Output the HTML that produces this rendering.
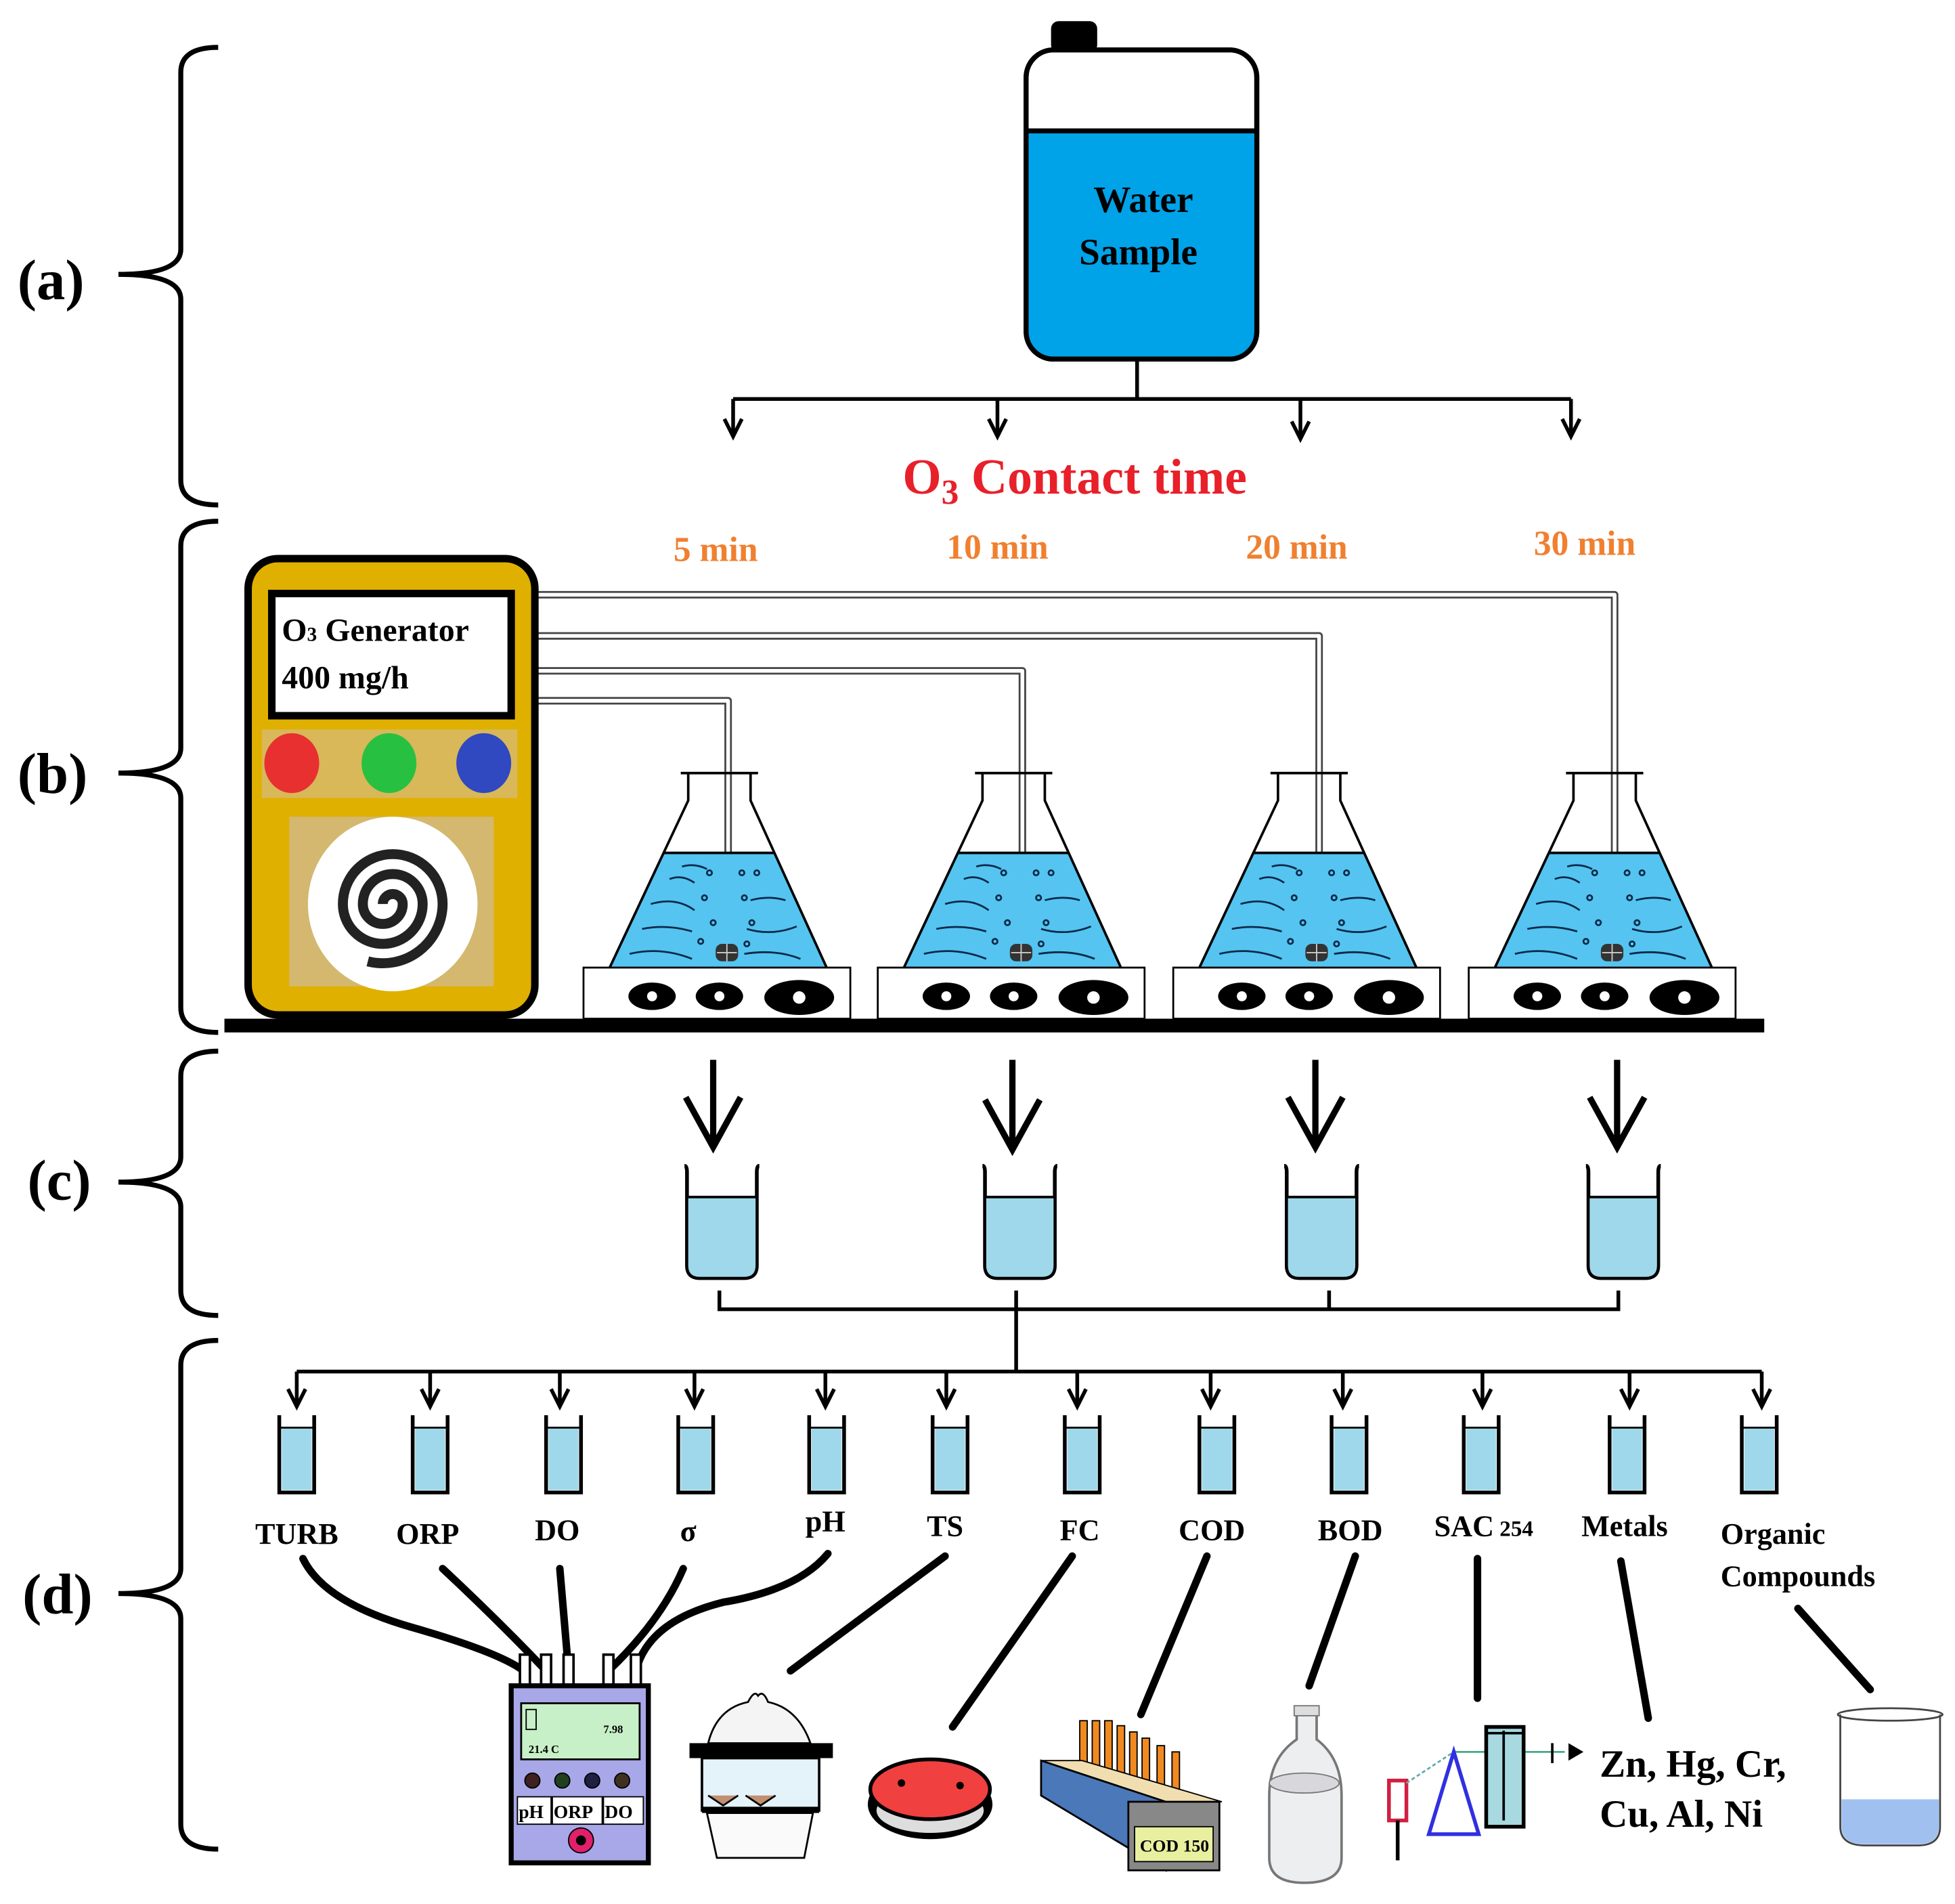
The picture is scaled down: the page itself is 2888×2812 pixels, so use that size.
<!DOCTYPE html>
<html><head><meta charset="utf-8"><style>
html,body{margin:0;padding:0;background:#fff;}
svg{display:block;}
text{font-family:"Liberation Serif",serif;font-weight:bold;}
</style></head><body>
<svg width="2888" height="2812" viewBox="0 0 1568 1527" preserveAspectRatio="none" xmlns="http://www.w3.org/2000/svg">
<defs>
<g id="flask">
  <path d="M-45,684 L44,684 L86,776 L-88,776 Z" fill="#55c4f0"/>
  <path d="M-88,776 L-25,642 L-25,620 M25,620 L25,642 L86,776" fill="none" stroke="#000" stroke-width="2"/>
  <line x1="-31" y1="620" x2="31" y2="620" stroke="#000" stroke-width="2"/>
  <line x1="-45" y1="684" x2="44" y2="684" stroke="#000" stroke-width="2"/>
  <g fill="none" stroke="#0a2a4a" stroke-width="1.5">
    <path d="M-40,705 q10,-4 20,3"/><path d="M-55,725 q20,-6 35,5"/><path d="M-62,745 q20,-4 40,2"/>
    <path d="M-72,765 q25,-6 50,4"/><path d="M25,722 q15,-4 28,0"/><path d="M22,745 q20,6 40,-2"/>
    <path d="M20,765 q25,-4 45,4"/><path d="M-30,695 q10,-3 20,2"/>
    <circle cx="-8" cy="700" r="2"/><circle cx="-12" cy="720" r="2"/><circle cx="-5" cy="740" r="2"/>
    <circle cx="-15" cy="755" r="2"/><circle cx="18" cy="700" r="2"/><circle cx="20" cy="720" r="2"/>
    <circle cx="26" cy="740" r="2"/><circle cx="30" cy="700" r="2"/><circle cx="22" cy="757" r="2"/>
  </g>
  <rect x="-3" y="757" width="18" height="14" rx="5" fill="#333"/>
  <path d="M-2,764 h16 M6,757 v14" stroke="#ccc" stroke-width="1"/>
  <rect x="-109" y="776" width="214" height="41" fill="#fff" stroke="#000" stroke-width="1.5"/>
  <ellipse cx="-54" cy="799" rx="19" ry="11" fill="#000"/><circle cx="-54" cy="799" r="4" fill="#fff"/>
  <ellipse cx="0" cy="799" rx="19" ry="11" fill="#000"/><circle cx="0" cy="799" r="4" fill="#fff"/>
  <ellipse cx="64" cy="800" rx="28" ry="14" fill="#000"/><circle cx="64" cy="800" r="5" fill="#fff"/>
</g>
<g id="beaker">
  <path d="M-30,935 q2,0 2,5 L-28,1015 q0,10 10,10 L18,1025 q10,0 10,-10 L28,940 q0,-5 2,-5" fill="none" stroke="#000" stroke-width="3"/>
  <path d="M-28,960 L28,960 L28,1015 q0,10 -10,10 L-18,1025 q-10,0 -10,-10 Z" fill="#9fd8ea" stroke="#000" stroke-width="2"/>
</g>
<g id="tube">
  <path d="M-14,1135 L-14,1197 L14,1197 L14,1135" fill="none" stroke="#000" stroke-width="3"/>
  <rect x="-12" y="1145" width="24" height="50" fill="#9fd8ea"/>
  <line x1="-14" y1="1145" x2="14" y2="1145" stroke="#000" stroke-width="1.5"/>
</g>
<g id="sarr"><path d="M-7,-14 L0,0 L7,-14" fill="none" stroke="#000" stroke-width="3"/></g>
<g id="barr"><path d="M-22,-40 L0,0 L22,-40" fill="none" stroke="#000" stroke-width="5"/></g>
</defs>

<!-- brackets -->
<g fill="none" stroke="#000" stroke-width="4">
<path d="M175,38 q-30,0 -30,20 L145,200 q0,20 -50,20 q50,0 50,20 L145,385 q0,20 30,20"/>
<path d="M175,418 q-30,0 -30,20 L145,600 q0,20 -50,20 q50,0 50,20 L145,808 q0,20 30,20"/>
<path d="M175,843 q-30,0 -30,20 L145,928 q0,20 -50,20 q50,0 50,20 L145,1035 q0,20 30,20"/>
<path d="M175,1075 q-30,0 -30,20 L145,1258 q0,20 -50,20 q50,0 50,20 L145,1463 q0,20 30,20"/>
</g>
<text x="14" y="240" font-size="46">(a)</text>
<text x="14" y="636" font-size="46">(b)</text>
<text x="22" y="962" font-size="46">(c)</text>
<text x="18" y="1294" font-size="46">(d)</text>

<!-- jug -->
<rect x="843" y="17" width="37" height="25" rx="6" fill="#000"/>
<rect x="823" y="40" width="185" height="248" rx="22" fill="#fff" stroke="#000" stroke-width="4"/>
<path d="M825,105 L1006,105 L1006,266 q0,20 -20,20 L845,286 q-20,0 -20,-20 Z" fill="#00a2e8"/>
<line x1="823" y1="105" x2="1008" y2="105" stroke="#000" stroke-width="4"/>
<rect x="823" y="40" width="185" height="248" rx="22" fill="none" stroke="#000" stroke-width="4"/>
<text x="917" y="170" font-size="30" text-anchor="middle">Water</text>
<text x="913" y="212" font-size="30" text-anchor="middle">Sample</text>
<g stroke="#000" stroke-width="3" fill="none">
<line x1="912" y1="288" x2="912" y2="320"/>
<line x1="588" y1="320" x2="1260" y2="320"/>
<line x1="588" y1="320" x2="588" y2="350"/><line x1="800" y1="320" x2="800" y2="350"/>
<line x1="1043" y1="320" x2="1043" y2="352"/><line x1="1260" y1="320" x2="1260" y2="350"/>
</g>
<use href="#sarr" x="588" y="350"/><use href="#sarr" x="800" y="350"/><use href="#sarr" x="1043" y="352"/><use href="#sarr" x="1260" y="350"/>
<text x="862" y="396" font-size="40" fill="#e8202a" text-anchor="middle">O<tspan font-size="28" dy="8">3</tspan><tspan dy="-8"> Contact time</tspan></text>
<g fill="#f08030" font-size="28" text-anchor="middle">
<text x="574" y="450">5 min</text><text x="800" y="448">10 min</text><text x="1040" y="448">20 min</text><text x="1271" y="445">30 min</text>
</g>

<!-- tubes from generator -->
<g fill="none" stroke-linejoin="round">
<g stroke="#444" stroke-width="6">
<path d="M430,477 L1295,477 L1295,765"/><path d="M430,510 L1058,510 L1058,765"/>
<path d="M430,538 L820,538 L820,765"/><path d="M430,562 L584,562 L584,765"/>
</g>
<g stroke="#fff" stroke-width="3">
<path d="M430,477 L1295,477 L1295,765"/><path d="M430,510 L1058,510 L1058,765"/>
<path d="M430,538 L820,538 L820,765"/><path d="M430,562 L584,562 L584,765"/>
</g>
</g>

<!-- flasks -->
<use href="#flask" x="577"/><use href="#flask" x="813"/><use href="#flask" x="1050"/><use href="#flask" x="1287"/>
<rect x="180" y="817" width="1235" height="11" fill="#000"/>

<!-- generator -->
<rect x="199" y="448" width="230" height="366" rx="24" fill="#e0b000" stroke="#000" stroke-width="6"/>
<rect x="218" y="476" width="192" height="98" fill="#fff" stroke="#000" stroke-width="6"/>
<text x="226" y="514" font-size="26" font-weight="normal">O<tspan font-size="16">3</tspan> Generator</text>
<text x="226" y="552" font-size="26" font-weight="normal">400 mg/h</text>
<rect x="210" y="585" width="205" height="55" fill="#d8b858"/>
<ellipse cx="234" cy="612" rx="22" ry="24" fill="#e83030"/>
<ellipse cx="312" cy="612" rx="22" ry="24" fill="#28c040"/>
<ellipse cx="388" cy="612" rx="22" ry="24" fill="#3048c0"/>
<rect x="232" y="655" width="164" height="136" fill="#d4b870"/>
<ellipse cx="315" cy="725" rx="68" ry="70" fill="#fff"/>
<path d="M307,725 a8,8 0 0 1 16,0 a16,16 0 0 1 -32,0 a24,24 0 0 1 48,0 a32,32 0 0 1 -64,0 a40,40 0 0 1 80,0 a48,48 0 0 1 -60,46" fill="none" stroke="#222" stroke-width="8"/>

<!-- (c) -->
<g stroke="#000" stroke-width="5">
<line x1="572" y1="850" x2="572" y2="918"/><line x1="812" y1="850" x2="812" y2="920"/>
<line x1="1055" y1="850" x2="1055" y2="918"/><line x1="1297" y1="850" x2="1297" y2="918"/>
</g>
<use href="#barr" x="572" y="920"/><use href="#barr" x="812" y="922"/><use href="#barr" x="1055" y="920"/><use href="#barr" x="1297" y="920"/>
<use href="#beaker" x="579"/><use href="#beaker" x="818"/><use href="#beaker" x="1060"/><use href="#beaker" x="1302"/>
<g stroke="#000" stroke-width="3" fill="none">
<path d="M577,1035 L577,1050 L1298,1050 L1298,1035"/><line x1="1066" y1="1035" x2="1066" y2="1050"/>
<line x1="815" y1="1035" x2="815" y2="1100"/>
<line x1="238" y1="1100" x2="1413" y2="1100"/>
</g>
<g stroke="#000" stroke-width="3">
<line x1="238" y1="1100" x2="238" y2="1126"/><line x1="345" y1="1100" x2="345" y2="1126"/>
<line x1="449" y1="1100" x2="449" y2="1126"/><line x1="557" y1="1100" x2="557" y2="1126"/>
<line x1="662" y1="1100" x2="662" y2="1126"/><line x1="759" y1="1100" x2="759" y2="1126"/>
<line x1="864" y1="1100" x2="864" y2="1126"/><line x1="971" y1="1100" x2="971" y2="1126"/>
<line x1="1077" y1="1100" x2="1077" y2="1126"/><line x1="1189" y1="1100" x2="1189" y2="1126"/>
<line x1="1307" y1="1100" x2="1307" y2="1126"/><line x1="1413" y1="1100" x2="1413" y2="1126"/>
</g>
<use href="#sarr" x="238" y="1128"/><use href="#sarr" x="345" y="1128"/><use href="#sarr" x="449" y="1128"/>
<use href="#sarr" x="557" y="1128"/><use href="#sarr" x="662" y="1128"/><use href="#sarr" x="759" y="1128"/>
<use href="#sarr" x="864" y="1128"/><use href="#sarr" x="971" y="1128"/><use href="#sarr" x="1077" y="1128"/>
<use href="#sarr" x="1189" y="1128"/><use href="#sarr" x="1307" y="1128"/><use href="#sarr" x="1413" y="1128"/>
<use href="#tube" x="238"/><use href="#tube" x="345"/><use href="#tube" x="452"/><use href="#tube" x="558"/>
<use href="#tube" x="663"/><use href="#tube" x="762"/><use href="#tube" x="868"/><use href="#tube" x="976"/>
<use href="#tube" x="1082"/><use href="#tube" x="1188"/><use href="#tube" x="1305"/><use href="#tube" x="1411"/>

<g font-size="24" text-anchor="middle">
<text x="238" y="1238">TURB</text><text x="343" y="1238">ORP</text><text x="447" y="1235">DO</text>
<text x="552" y="1236">σ</text><text x="662" y="1228">pH</text><text x="758" y="1232">TS</text>
<text x="866" y="1235">FC</text><text x="972" y="1235">COD</text><text x="1083" y="1235">BOD</text>
<text x="1190" y="1232">SAC<tspan font-size="18"> 254</tspan></text><text x="1303" y="1232">Metals</text>
<text x="1380" y="1238" text-anchor="start">Organic</text><text x="1380" y="1272" text-anchor="start">Compounds</text>
</g>

<!-- connector lines -->
<g fill="none" stroke="#000" stroke-width="6" stroke-linecap="round">
<path d="M243,1250 Q260,1285 330,1305 Q400,1325 420,1340"/>
<path d="M355,1258 Q400,1300 438,1340"/>
<path d="M449,1258 L456,1340"/>
<path d="M548,1258 Q530,1300 488,1340"/>
<path d="M664,1246 Q640,1275 580,1285 Q520,1300 510,1340"/>
<path d="M758,1248 L634,1340"/>
<path d="M860,1248 L764,1385"/>
<path d="M968,1248 L915,1375"/>
<path d="M1087,1248 L1050,1352"/>
<path d="M1185,1250 L1185,1362"/>
<path d="M1300,1252 L1322,1378"/>
<path d="M1442,1290 L1500,1355"/>
</g>

<!-- meter -->
<g stroke="#000" stroke-width="2" fill="#fff">
<rect x="417" y="1327" width="8" height="28"/><rect x="434" y="1327" width="8" height="28"/><rect x="452" y="1327" width="8" height="28"/>
<rect x="484" y="1327" width="8" height="28"/><rect x="506" y="1327" width="8" height="28"/>
</g>
<rect x="410" y="1352" width="110" height="142" fill="#a8a8e8" stroke="#000" stroke-width="4"/>
<rect x="418" y="1366" width="95" height="45" fill="#c8f0c8" stroke="#000" stroke-width="1.5"/>
<rect x="422" y="1371" width="8" height="16" fill="none" stroke="#000" stroke-width="1"/>
<text x="484" y="1390" font-size="9" font-weight="normal">7.98</text>
<text x="424" y="1406" font-size="9" font-weight="normal">21.4 C</text>
<circle cx="427" cy="1428" r="6" fill="#402020" stroke="#000"/><circle cx="451" cy="1428" r="6" fill="#204020" stroke="#000"/>
<circle cx="475" cy="1428" r="6" fill="#202040" stroke="#000"/><circle cx="499" cy="1428" r="6" fill="#403020" stroke="#000"/>
<g fill="#fff" stroke="#000" stroke-width="1"><rect x="415" y="1441" width="27" height="22"/><rect x="443" y="1441" width="40" height="22"/><rect x="484" y="1441" width="32" height="22"/></g>
<g font-size="15" font-weight="normal"><text x="416" y="1458">pH</text><text x="444" y="1458">ORP</text><text x="485" y="1458">DO</text></g>
<circle cx="466" cy="1476" r="10" fill="#e0206a" stroke="#000"/><circle cx="466" cy="1476" r="4" fill="#000"/>

<!-- desiccator -->
<path d="M568,1398 Q575,1370 600,1365 Q605,1355 608,1360 Q612,1355 616,1365 Q640,1370 650,1398 Z" fill="#f4f4f4" stroke="#000" stroke-width="1.5"/>
<rect x="553" y="1398" width="115" height="12" fill="#000"/>
<rect x="563" y="1410" width="94" height="42" fill="#e4f2fa" stroke="#000" stroke-width="2"/>
<path d="M568,1440 l12,8 l12,-8 M598,1440 l12,8 l12,-8" fill="#c09070" stroke="#000" stroke-width="1.5"/>
<rect x="563" y="1449" width="94" height="5" fill="#000"/>
<path d="M567,1454 L575,1490 L645,1490 L652,1454 Z" fill="#fafafa" stroke="#000" stroke-width="1.5"/>

<!-- petri -->
<ellipse cx="746" cy="1447" rx="50" ry="28" fill="#000"/>
<ellipse cx="746" cy="1452" rx="43" ry="18" fill="#ddd"/>
<ellipse cx="746" cy="1435" rx="48" ry="24" fill="#f04040" stroke="#000" stroke-width="3"/>
<circle cx="723" cy="1430" r="3" fill="#000"/><circle cx="770" cy="1432" r="3" fill="#000"/>

<!-- COD block -->
<g fill="#f08a20" stroke="#000" stroke-width="1">
<rect x="866" y="1380" width="6" height="50"/><rect x="876" y="1380" width="6" height="50"/>
<rect x="886" y="1380" width="6" height="55"/><rect x="896" y="1384" width="6" height="55"/>
<rect x="906" y="1389" width="6" height="55"/><rect x="916" y="1394" width="6" height="50"/>
<rect x="928" y="1400" width="6" height="45"/><rect x="940" y="1405" width="6" height="40"/>
</g>
<path d="M835,1412 L868,1412 L980,1445 L935,1445 Z" fill="#f0deb0" stroke="#000" stroke-width="1"/>
<path d="M835,1412 L935,1445 L935,1500 L835,1440 Z" fill="#4a78b8" stroke="#000" stroke-width="1.5"/>
<rect x="905" y="1445" width="73" height="55" fill="#888" stroke="#000" stroke-width="1.5"/>
<rect x="910" y="1465" width="63" height="28" fill="#e8f0a0" stroke="#000"/>
<text x="942" y="1485" font-size="14" text-anchor="middle" font-weight="normal">COD 150</text>

<!-- bottle -->
<path d="M1040,1372 L1040,1395 Q1018,1410 1018,1440 L1018,1490 Q1018,1510 1046,1510 Q1076,1510 1076,1490 L1076,1440 Q1076,1410 1056,1395 L1056,1372 Z" fill="#eceef0" stroke="#777" stroke-width="2"/>
<rect x="1038" y="1368" width="20" height="8" fill="#ddd" stroke="#777"/>
<ellipse cx="1046" cy="1430" rx="28" ry="8" fill="#d8d8dc" stroke="#777"/>

<!-- spectro -->
<rect x="1114" y="1428" width="14" height="32" fill="#fff" stroke="#d02040" stroke-width="3"/>
<line x1="1121" y1="1460" x2="1121" y2="1492" stroke="#000" stroke-width="3"/>
<line x1="1128" y1="1430" x2="1166" y2="1405" stroke="#6aa" stroke-width="1.5" stroke-dasharray="3,2"/>
<line x1="1166" y1="1405" x2="1255" y2="1405" stroke="#4a8" stroke-width="1.5"/>
<path d="M1166,1405 L1146,1471 L1186,1471 Z" fill="#fff" stroke="#3030e0" stroke-width="3"/>
<rect x="1192" y="1385" width="30" height="80" fill="#a8d8e0" stroke="#000" stroke-width="3"/>
<path d="M1192,1390 L1222,1390 M1206,1388 L1206,1460" stroke="#000" stroke-width="2"/>
<line x1="1245" y1="1398" x2="1245" y2="1414" stroke="#000" stroke-width="2"/>
<path d="M1258,1398 L1270,1405 L1258,1412 Z" fill="#000"/>
<text x="1283" y="1425" font-size="31">Zn, Hg, Cr,</text>
<text x="1283" y="1465" font-size="31">Cu, Al, Ni</text>

<!-- beaker organic -->
<path d="M1476,1375 L1476,1465 Q1476,1480 1496,1480 L1538,1480 Q1556,1480 1556,1465 L1556,1375" fill="none" stroke="#444" stroke-width="1.5"/>
<path d="M1477,1443 L1555,1443 L1555,1465 Q1555,1479 1538,1479 L1496,1479 Q1477,1479 1477,1465 Z" fill="#a0c0f0"/>
<ellipse cx="1516" cy="1375" rx="42" ry="5" fill="none" stroke="#444" stroke-width="1.5"/>
</svg>
</body></html>
